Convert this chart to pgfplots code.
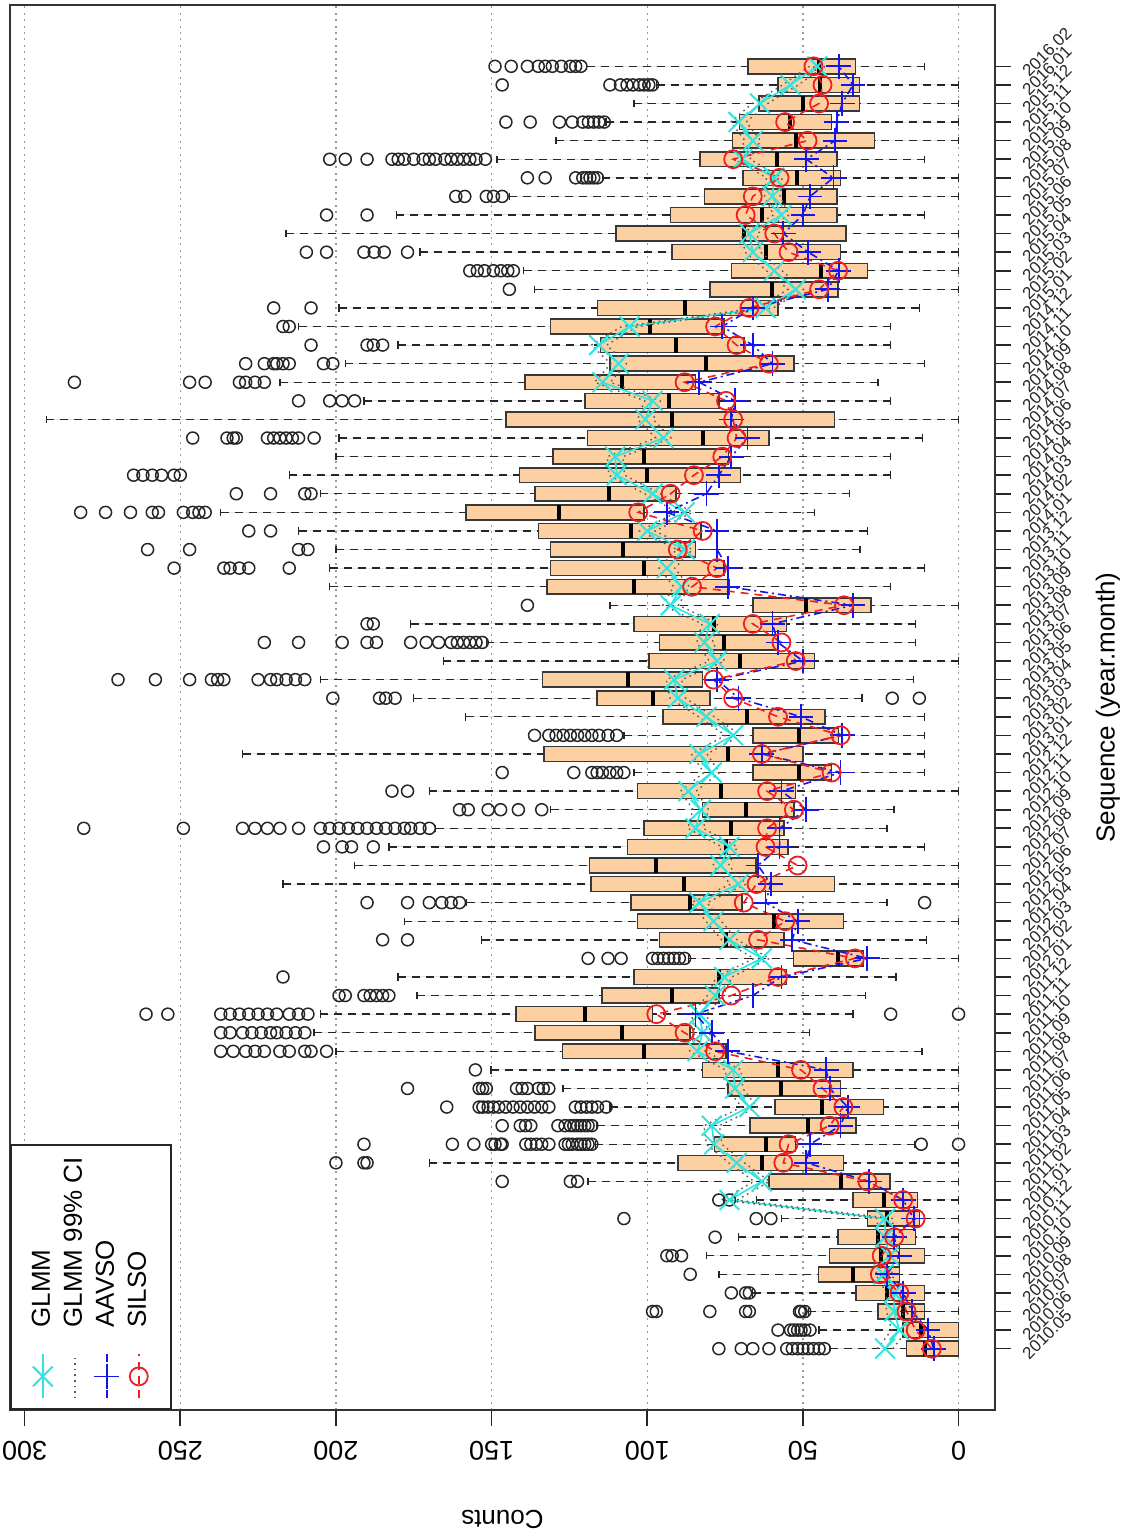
\documentclass[border=0pt]{standalone}
\usepackage{fontspec}
\setmainfont{Liberation Sans}
\usepackage{pgfplots}
\usepackage{pgfplotstable}
\pgfplotsset{compat=1.18}
\usepgfplotslibrary{statistics}
\definecolor{peach}{RGB}{253,208,162}
\definecolor{glmmcol}{RGB}{50,228,222}
\definecolor{silsored}{RGB}{240,30,30}
\definecolor{aavsoblue}{RGB}{20,20,240}

\pgfplotsset{
  bxs/.style={
    forget plot, draw=black!78, fill=peach, line width=0.75pt, solid,
    boxplot/box extend=0.8, boxplot/whisker extend=0.4,
    boxplot/every median/.style={line width=2pt, draw=black},
    boxplot/draw/lower whisker/.code={%
      \draw[black!85, line width=0.7pt, dash pattern=on 4pt off 3pt]
        (boxplot box cs:\pgfplotsboxplotvalue{lower whisker},0.5) --
        (boxplot box cs:\pgfplotsboxplotvalue{lower quartile},0.5);
      \draw[black!85, line width=0.7pt]
        (boxplot whisker cs:\pgfplotsboxplotvalue{lower whisker},0) --
        (boxplot whisker cs:\pgfplotsboxplotvalue{lower whisker},1);
    },
    boxplot/draw/upper whisker/.code={%
      \draw[black!85, line width=0.7pt, dash pattern=on 4pt off 3pt]
        (boxplot box cs:\pgfplotsboxplotvalue{upper whisker},0.5) --
        (boxplot box cs:\pgfplotsboxplotvalue{upper quartile},0.5);
      \draw[black!85, line width=0.7pt]
        (boxplot whisker cs:\pgfplotsboxplotvalue{upper whisker},0) --
        (boxplot whisker cs:\pgfplotsboxplotvalue{upper whisker},1);
    },
    mark=o, mark size=3pt,
    mark options={solid, draw=black!85, fill=none, line width=0.75pt},
  }
}
\newcommand\bx[7]{\addplot[boxplot prepared={draw position=#1, lower whisker=#2, lower quartile=#3, median=#4, upper quartile=#5, upper whisker=#6}, bxs] coordinates {#7};}

\pgfplotstableread{
pos glmm lo hi silso aavso
1 23.6 21.1 26.1 8.6 8
2 19 16.5 21.5 13.8 9.8
3 20.7 18.2 23.2 16.7 14.9
4 20.7 18.2 23.2 19 17.8
5 24.1 21.6 26.6 25.3 23
6 22.2 19.7 24.7 24.7 19
7 23.6 21.1 26.1 20.7 20.7
8 23.6 21.1 26.1 13.8 14.4
9 73.6 71.1 76.1 17.8 17.8
10 63.2 60.7 65.7 29.3 28.7
11 71.3 68.8 73.8 56.3 48.9
12 78.5 76 81 54.6 47.7
13 79.3 76.8 81.8 41.4 37.9
14 67.2 64.7 69.7 37 35.6
15 71.8 69.3 74.3 43.7 41.4
16 72.4 69.9 74.9 50.6 42.5
17 83.9 81.4 86.4 78.2 74.1
18 82.2 79.7 84.7 88 79.3
19 83.3 80.8 85.8 97.1 84.5
20 78.2 75.7 80.7 73 66.1
21 75.3 72.8 77.8 58 56.9
22 63.2 60.7 65.7 33.3 29.3
23 73.6 71.1 76.1 64.4 53.4
24 78.7 76.2 81.2 55.7 51.7
25 83.3 80.8 85.8 69 62
26 70.7 68.2 73.2 64.9 60.3
27 76.4 73.9 78.9 51.7 64.4
28 73.6 71.1 76.1 62 57.5
29 84.5 82 87 61.5 57.5
30 82.8 80.3 85.3 52.9 48.9
31 86.8 84.3 89.3 61.5 56.9
32 79.3 76.8 81.8 40.8 37.9
33 83.3 80.8 85.8 63.2 63.2
34 72.4 69.9 74.9 37.9 37.4
35 81 78.5 83.5 58 50.6
36 90.2 87.7 92.7 72.4 70.7
37 91.4 88.9 93.9 78.7 77.6
38 77.6 75.1 80.1 52.3 50
39 81.6 79.1 84.1 56.9 58
40 79.9 77.4 82.4 66.1 59.8
41 92.5 90 95 36.8 33.9
42 89 86.5 91.5 85.6 74.1
43 93.7 91.2 96.2 77.6 74.1
44 88 85.5 90.5 90.2 77.6
45 100 97.5 102.5 82.2 77.6
46 88 85.5 90.5 102.9 93.7
47 98.3 95.8 100.8 92.5 81
48 109.8 107.3 112.3 85 77
49 110.3 107.8 112.8 75.9 73
50 94.8 92.3 97.3 71.3 67.8
51 100.6 98.1 103.1 72.4 73
52 98.3 95.8 100.8 74.7 71.8
53 114.4 111.9 116.9 88 83.3
54 109.2 106.7 111.7 60.9 59.8
55 115.5 113 118 71.3 66.1
56 105.7 103.2 108.2 78.2 75.9
57 62 59.5 64.5 67.2 66.1
58 52.3 49.8 54.8 44.8 42
59 59.2 56.7 61.7 38.7 38.5
60 66.1 63.6 68.6 54.6 48.3
61 67.2 64.7 69.7 59.2 56.3
62 56.9 54.4 59.4 68.4 50
63 59.8 57.3 62.3 66.1 47.7
64 59.2 56.7 61.7 57.5 40.2
65 69.5 67 72 72.4 48.9
66 66.1 63.6 68.6 48.5 39.7
67 70.7 68.2 73.2 55.7 39.1
68 63.8 61.3 66.3 44.8 37.4
69 54 51.5 56.5 43.7 33.9
70 45.4 42.9 47.9 46.6 38.5
}\lines

\begin{document}
\begin{tikzpicture}
\begin{axis}[
  scale only axis, width=492.5pt, height=702.5pt,
  x dir=reverse, xmin=-11.7, xmax=304.7, ymin=-2.3, ymax=73.3,
  boxplot/draw direction=x,
  xtick={0,50,...,300},
  ytick={1,...,70},
  yticklabels={2010.05,2010.06,2010.07,2010.08,2010.09,2010.10,2010.11,2010.12,
    2011.01,2011.02,2011.03,2011.04,2011.05,2011.06,2011.07,2011.08,2011.09,2011.10,2011.11,2011.12,
    2012.01,2012.02,2012.03,2012.04,2012.05,2012.06,2012.07,2012.08,2012.09,2012.10,2012.11,2012.12,
    2013.01,2013.02,2013.03,2013.04,2013.05,2013.06,2013.07,2013.08,2013.09,2013.10,2013.11,2013.12,
    2014.01,2014.02,2014.03,2014.04,2014.05,2014.06,2014.07,2014.08,2014.09,2014.10,2014.11,2014.12,
    2015.01,2015.02,2015.03,2015.04,2015.05,2015.06,2015.07,2015.08,2015.09,2015.10,2015.11,2015.12,
    2016.01,2016.02},
  xtick pos=left, ytick pos=right, yticklabel pos=right,
  tick align=outside, major tick length=8pt,
  tick style={black!85, line width=0.8pt},
  xmajorgrids,
  major grid style={gray!80, dash pattern=on 1pt off 2.2pt, line width=0.6pt},
  axis line style={black!80, line width=1pt},
  /pgf/number format/assume math mode=true,
  xticklabel style={font=\fontsize{13.5}{16}\selectfont, yshift=-12.5pt, rotate=180, anchor=center},
  yticklabel style={font=\fontsize{8.5}{10}\selectfont, inner sep=0pt, xshift=7pt, yshift=-3.8pt, rotate=45, anchor=west, text=black!85},
  xlabel={Counts}, ylabel={Sequence (year.month)},
  xlabel style={font=\fontsize{13}{15}\selectfont, at={(axis description cs:0.5,0)}, yshift=-54.5pt, rotate=180, anchor=center},
  ylabel style={font=\fontsize{13}{15}\selectfont, at={(axis description cs:1.1147,0.5)}, anchor=center},
  legend cell align=left,
  legend to name=glmmleg,
  legend image code/.code={\draw[mark repeat=2,mark phase=2,#1] plot coordinates {(0pt,0pt) (11pt,0pt) (22pt,0pt)};},
  legend style={draw=black!85, line width=0.8pt, fill=white,
    font=\fontsize{13}{15}\selectfont, inner xsep=5pt, inner ysep=9pt, row sep=2pt, column sep=12pt,
    nodes={inner sep=1pt, text height=9.5pt, text depth=2.5pt}},
]
\coordinate (bl) at (axis description cs:0,0);
\coordinate (tr) at (axis description cs:1,1);
\bx{1}{0}{0}{10.9}{16.7}{41.4}{(0,43.1)(0,44.8)(0,46.6)(0,48.3)(0,50)(0,51.7)(0,53.4)(0,55.2)(0,60.9)(0,66.1)(0,69.8)(0,77)}
\bx{2}{0}{0}{12.1}{17.8}{44.8}{(0,47.7)(0,49.4)(0,50.6)(0,51.7)(0,52.9)(0,54)(0,58)}
\bx{3}{0}{10.9}{17.8}{25.9}{48.3}{(0,49.4)(0,50.6)(0,51.1)(0,67.2)(0,68.4)(0,79.9)(0,97.1)(0,98.3)}
\bx{4}{0}{10.9}{23}{33}{66.1}{(0,67.2)(0,68.4)(0,73)}
\bx{5}{0}{19}{33.9}{45}{77}{(0,86.2)}
\bx{6}{0}{10.9}{24.9}{41.4}{81}{(0,89)(0,92)(0,93.7)}
\bx{7}{0}{13.8}{25.9}{38.7}{70.7}{(0,78.2)}
\bx{8}{0}{12.6}{23}{29.3}{56.9}{(0,60.3)(0,65)(0,107.5)}
\bx{9}{0}{13.2}{24.1}{33.9}{65}{(0,73.6)(0,77)}
\bx{10}{0}{22.1}{37.9}{60.9}{119}{(0,122.4)(0,124.7)(0,146.6)}
\bx{11}{0}{37}{63.2}{90.2}{170}{(0,190)(0,191)(0,200)}
\bx{12}{14}{52.3}{62}{78.4}{116.7}{(0,0)(0,12)(0,117.8)(0,119)(0,120.1)(0,121.3)(0,122.4)(0,124.1)(0,125.3)(0,126.4)(0,131.6)(0,133.9)(0,135.6)(0,137.4)(0,139)(0,146.6)(0,147.1)(0,148.9)(0,150)(0,155.7)(0,162.6)(0,191)}
\bx{13}{0}{33}{48.3}{67}{116.1}{(0,117.8)(0,119)(0,120.1)(0,121.3)(0,122.4)(0,123.6)(0,124.7)(0,126.4)(0,128.7)(0,137.4)(0,139.1)(0,140.8)(0,146.6)}
\bx{14}{0}{24.1}{43.9}{58.9}{112}{(0,113.2)(0,116)(0,117.8)(0,119.5)(0,121.3)(0,123.1)(0,131.6)(0,133.9)(0,136.2)(0,138.5)(0,140.8)(0,143.1)(0,145.5)(0,147.7)(0,149.4)(0,151.1)(0,152.8)(0,154)(0,164.4)}
\bx{15}{0}{37.9}{56.9}{74.1}{127}{(0,131.6)(0,133.4)(0,135)(0,138.5)(0,140.2)(0,142)(0,151.7)(0,152.9)(0,154)(0,177)}
\bx{16}{0}{33.9}{58}{82.2}{150.2}{(0,155.2)}
\bx{17}{11.8}{74.7}{101.1}{127.2}{200}{(0,203)(0,208)(0,210)(0,215)(0,218)(0,223)(0,226)(0,229)(0,233)(0,237)}
\bx{18}{47.9}{86.2}{108}{136}{207}{(0,210)(0,213)(0,216)(0,219)(0,221)(0,224)(0,227)(0,230)(0,234)(0,237)}
\bx{19}{33.9}{98.3}{120.1}{142.2}{205}{(0,0)(0,21.8)(0,209)(0,212)(0,215)(0,219)(0,222)(0,225)(0,228)(0,231)(0,234)(0,237)(0,254)(0,261)}
\bx{20}{29.9}{77}{92}{114.5}{174}{(0,183)(0,185)(0,187)(0,189)(0,191)(0,197)(0,199)}
\bx{21}{20.1}{55.2}{77}{104.3}{180}{(0,217)}
\bx{22}{0}{30.5}{38.7}{53.1}{86.8}{(0,88)(0,89.7)(0,91.4)(0,93.1)(0,94.8)(0,96.6)(0,98.3)(0,108.4)(0,112.6)(0,119)}
\bx{23}{10.3}{56}{74.7}{96}{153.2}{(0,177)(0,185)}
\bx{24}{0}{37}{59.2}{103.2}{178}{}
\bx{25}{23}{69.5}{86.2}{105.2}{158}{(0,10.9)(0,160.3)(0,163)(0,166)(0,170)(0,177)(0,190)}
\bx{26}{0}{39.9}{88.2}{118}{217}{}
\bx{27}{0}{65}{97.1}{118.6}{194}{}
\bx{28}{10.9}{54.8}{74.7}{106.3}{183}{(0,188)(0,195)(0,198)(0,204)}
\bx{29}{23}{56}{73}{101.1}{168}{(0,170)(0,173)(0,176)(0,178)(0,181)(0,184)(0,187)(0,190)(0,193)(0,196)(0,199)(0,202)(0,205)(0,212)(0,218)(0,222)(0,226)(0,230)(0,249)(0,281)}
\bx{30}{20.7}{52.9}{68.2}{82.2}{131}{(0,133.9)(0,141.4)(0,147.1)(0,151.1)(0,157.5)(0,160.3)}
\bx{31}{0}{52.3}{76.4}{103.2}{170}{(0,177)(0,182)}
\bx{32}{10.9}{40.8}{51.1}{66.1}{104.3}{(0,107.5)(0,109.8)(0,112)(0,114.4)(0,116.1)(0,117.8)(0,123.6)(0,146.6)}
\bx{33}{10.9}{50}{74.1}{133.1}{230}{}
\bx{34}{10.9}{38.5}{51.1}{66.1}{107.5}{(0,109.8)(0,112.6)(0,115.5)(0,117.8)(0,120.1)(0,122.4)(0,124.7)(0,127)(0,129.3)(0,131.6)(0,136.2)}
\bx{35}{10.9}{42.9}{68}{95}{158.3}{}
\bx{36}{31}{79.9}{98.3}{116.1}{175}{(0,12.6)(0,21.3)(0,181)(0,184)(0,186)(0,201)}
\bx{37}{14.4}{82.2}{106.3}{133.7}{205}{(0,210)(0,213)(0,216)(0,219)(0,221)(0,225)(0,236)(0,238)(0,240)(0,247)(0,258)(0,270)}
\bx{38}{0}{46.2}{70.1}{99.4}{165.5}{}
\bx{39}{13.8}{58}{75.3}{96}{151.7}{(0,153)(0,155)(0,157)(0,159)(0,161)(0,163)(0,167)(0,171)(0,176)(0,187)(0,190)(0,198)(0,212)(0,223)}
\bx{40}{13.8}{55.2}{78.7}{104.3}{176}{(0,188)(0,190)}
\bx{41}{0}{28.2}{49}{66.1}{112}{(0,138.5)}
\bx{42}{21.8}{73.6}{104.3}{132.2}{202}{}
\bx{43}{10.9}{75.3}{101.1}{131}{202}{(0,215)(0,228)(0,231)(0,234)(0,236)(0,252)}
\bx{44}{31.6}{84.5}{107.7}{131}{200}{(0,209)(0,212)(0,247)(0,260.5)}
\bx{45}{29.3}{82.8}{105.2}{135}{212}{(0,221)(0,228)}
\bx{46}{46.2}{101.1}{128.2}{158.3}{237}{(0,242)(0,244)(0,246)(0,249)(0,257)(0,259)(0,266)(0,274)(0,282)}
\bx{47}{35}{90.8}{112.3}{136}{205}{(0,208)(0,210)(0,221)(0,232)}
\bx{48}{21.8}{70.1}{100}{141}{215}{(0,250)(0,252)(0,256)(0,259)(0,262)(0,265)}
\bx{49}{21.8}{73.9}{101.1}{130.2}{200}{}
\bx{50}{11.5}{60.9}{82.2}{119.2}{199}{(0,207)(0,212)(0,214)(0,216)(0,218)(0,220)(0,222)(0,232)(0,233)(0,235)(0,246)}
\bx{51}{0}{39.9}{92}{145.4}{293}{}
\bx{52}{21.8}{77}{93}{120}{191}{(0,194)(0,198)(0,202)(0,212)}
\bx{53}{25.9}{84.5}{108}{139.3}{218}{(0,223)(0,226)(0,229)(0,231)(0,242)(0,247)(0,284)}
\bx{54}{10.9}{52.9}{81}{112}{197}{(0,201)(0,204)(0,215)(0,217)(0,219)(0,220)(0,223)(0,229)}
\bx{55}{21.8}{69}{90.8}{115}{180}{(0,185)(0,188)(0,190)(0,208)}
\bx{56}{21.8}{75.3}{99.2}{131}{212}{(0,215)(0,217)}
\bx{57}{12.6}{58}{88}{116}{199}{(0,208)(0,220)}
\bx{58}{0}{38.7}{60}{79.9}{136.2}{(0,144.3)}
\bx{59}{0}{29.3}{44.3}{73}{139.7}{(0,143)(0,144.8)(0,147)(0,149.4)(0,152.3)(0,154.6)(0,157)}
\bx{60}{0}{37.9}{62}{92}{173}{(0,177)(0,184.5)(0,187.7)(0,191)(0,203)(0,209.5)}
\bx{61}{0}{36.2}{69}{110}{216}{}
\bx{62}{10.9}{39.1}{63}{92.5}{180.6}{(0,190)(0,203)}
\bx{63}{0}{39.1}{56}{81.6}{144.3}{(0,146.6)(0,149.4)(0,151.7)(0,158.6)(0,161.5)}
\bx{64}{0}{37.9}{52}{69.2}{114.4}{(0,116)(0,117.2)(0,118.4)(0,119.5)(0,120.7)(0,123)(0,132.8)(0,138.5)}
\bx{65}{10.9}{39.1}{58.3}{83}{148.3}{(0,152)(0,155)(0,157)(0,159)(0,161)(0,163)(0,165)(0,168)(0,170)(0,172)(0,175)(0,178)(0,180)(0,182)(0,190)(0,197)(0,202)}
\bx{66}{0}{27}{52.3}{72.6}{129.3}{}
\bx{67}{0}{40.8}{54}{70.3}{113.2}{(0,113.8)(0,115.5)(0,117.2)(0,118.9)(0,120.7)(0,124.1)(0,128.2)(0,137.6)(0,145.4)}
\bx{68}{0}{31.8}{50}{64.1}{104.3}{}
\bx{69}{0}{31.8}{44.5}{58}{97}{(0,98.3)(0,99.5)(0,101)(0,102.5)(0,104.6)(0,106.5)(0,108.6)(0,112)(0,146.6)}
\bx{70}{10.9}{33.1}{44.8}{67.6}{119.5}{(0,121.3)(0,123)(0,124.7)(0,127.6)(0,130.5)(0,132.8)(0,135)(0,138.5)(0,143.7)(0,148.9)}

\addplot[glmmcol, line width=0.8pt, mark=x, mark size=7pt, mark options={solid, line width=1pt}] table[x=glmm, y=pos] {\lines};
\addplot[black!65, line width=0.7pt, dash pattern=on 0.8pt off 2pt] table[x=lo, y=pos] {\lines};
\addplot[black!65, line width=0.7pt, dash pattern=on 0.8pt off 2pt, forget plot] table[x=hi, y=pos] {\lines};
\addplot[aavsoblue, line width=0.8pt, dash pattern=on 4pt off 2pt on 1pt off 2pt, mark=+, mark size=6.2pt, mark options={solid, line width=0.9pt}] table[x=aavso, y=pos] {\lines};
\addplot[silsored, line width=0.8pt, dash pattern=on 4pt off 3pt, mark=o, mark size=4.5pt, mark options={solid, line width=0.9pt}] table[x=silso, y=pos] {\lines};
\legend{GLMM, GLMM 99\% CI, AAVSO, SILSO}
\end{axis}
\node[rotate=90, anchor=north west, inner sep=0pt, outer sep=0pt] at (bl) {\pgfplotslegendfromname{glmmleg}};
\pgfresetboundingbox
\path[use as bounding box] ([shift={(-5pt,-63.5pt)}]bl) rectangle ([shift={(66pt,2.5pt)}]tr);
\end{tikzpicture}
\end{document}
